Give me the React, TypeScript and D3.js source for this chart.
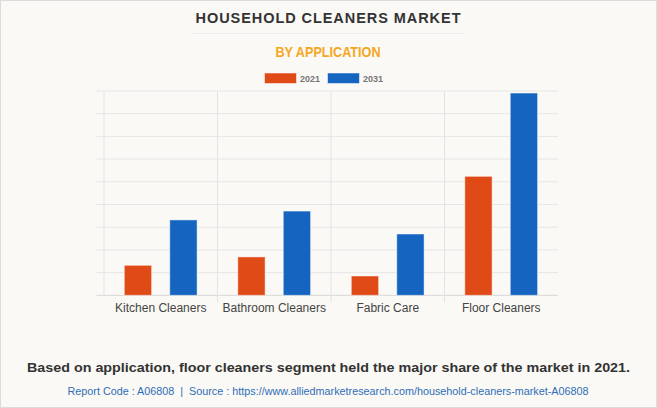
import React from "react";
import * as d3 from "d3";

const categories = ["Kitchen Cleaners", "Bathroom Cleaners", "Fabric Care", "Floor Cleaners"];
const seriesNames = ["2021", "2031"];
const values2021 = [1.32, 1.69, 0.85, 5.24];
const values2031 = [3.32, 3.71, 2.7, 8.91];
const colors = ["#e04a17", "#1565c0"];
const yTicks = [0, 1, 2, 3, 4, 5, 6, 7, 8, 9];

const W = 657;
const H = 408;
const FONT = "'Liberation Sans', Arial, sans-serif";

export default function App() {
  const left = 104;
  const right = 558;
  const top = 91;
  const bottom = 295.3;
  const x = d3.scaleBand<string>().domain(categories).range([left, right]).paddingInner(0).paddingOuter(0);
  const y = d3.scaleLinear().domain([0, 9]).range([bottom, top]);
  const bw = x.bandwidth();
  const inner = d3.scaleBand<string>().domain(seriesNames).range([bw * 0.179, bw * 0.82]).paddingInner(0.4);
  const series = [values2021, values2031];

  return (
    <svg width={W} height={H} style={{ position: "absolute", left: 0, top: 0, display: "block" }}>
      <rect x={0.5} y={0.5} width={W - 1} height={H - 1} fill="#faf9f5" stroke="#dcdcdc" />
      <text x={328} y={23} textAnchor="middle" fontFamily={FONT} fontWeight="bold" fontSize={14.5} fill="#333" textLength={265} lengthAdjust="spacing">
        HOUSEHOLD CLEANERS MARKET
      </text>
      <line x1={193} x2={463} y1={33.5} y2={33.5} stroke="#ececec" strokeWidth={1} />
      <text x={328} y={57} textAnchor="middle" fontFamily={FONT} fontWeight="bold" fontSize={14} fill="#f5a623" textLength={105} lengthAdjust="spacingAndGlyphs">
        BY APPLICATION
      </text>
      {seriesNames.map((s, i) => (
        <g key={s}>
          <rect x={264.5 + i * 63} y={73} width={32} height={10.5} fill={colors[i]} stroke="#ffffff" strokeOpacity={0.5} />
          <text x={300 + i * 63} y={81.5} fontFamily={FONT} fontSize={9} fontWeight="bold" fill="#777">
            {s}
          </text>
        </g>
      ))}
      {yTicks.map((t) => (
        <line key={t} x1={96.5} x2={right} y1={y(t)} y2={y(t)} stroke={t === 0 ? "#d8d8d8" : "#e6e6e6"} strokeWidth={1} />
      ))}
      {categories.map((c, i) => (
        <line key={c} x1={x(c)!} x2={x(c)!} y1={top} y2={i === 0 ? bottom : bottom + 7} stroke="#e3e3e3" strokeWidth={1} />
      ))}
      {categories.map((c, ci) =>
        seriesNames.map((s, si) => {
          const v = series[si][ci];
          return (
            <rect
              key={c + s}
              x={x(c)! + inner(s)!}
              y={y(v)}
              width={inner.bandwidth()}
              height={y(0) - y(v)}
              fill={colors[si]}
              stroke="#ffffff"
              strokeOpacity={0.45}
              strokeWidth={1}
            />
          );
        })
      )}
      {categories.map((c) => (
        <text key={c} x={x(c)! + bw / 2} y={312} textAnchor="middle" fontFamily={FONT} fontSize={12} fill="#444">
          {c}
        </text>
      ))}
      <text x={328.5} y={372} textAnchor="middle" fontFamily={FONT} fontWeight="bold" fontSize={13.5} fill="#333" textLength={603} lengthAdjust="spacingAndGlyphs">
        Based on application, floor cleaners segment held the major share of the market in 2021.
      </text>
      <text x={328} y={395} textAnchor="middle" fontFamily={FONT} fontSize={10.5} fill="#2f6db5" textLength={521} lengthAdjust="spacingAndGlyphs">
        {"Report Code : A06808\u00a0\u00a0|\u00a0\u00a0Source : https://www.alliedmarketresearch.com/household-cleaners-market-A06808"}
      </text>
    </svg>
  );
}
